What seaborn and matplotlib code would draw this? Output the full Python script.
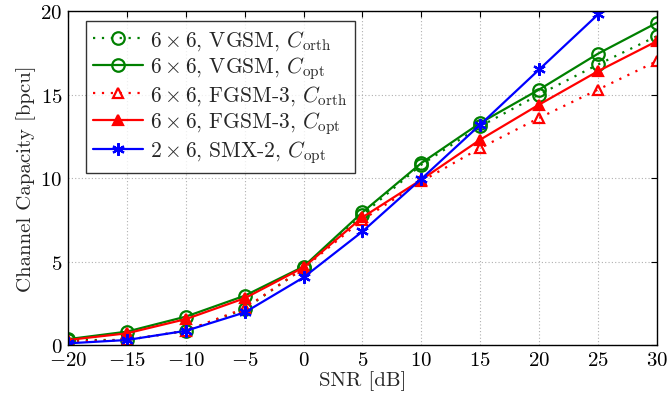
import matplotlib
matplotlib.use("Agg")
import matplotlib.pyplot as plt
import seaborn as sns
import numpy as np

# SNR grid in dB
snr = [-20, -15, -10, -5, 0, 5, 10, 15, 20, 25, 30]
snr_smx = [-20, -15, -10, -5, 0, 5, 10, 15, 20, 25]

# Channel capacity in bpcu
vgsm_orth = [0.3, 0.3, 0.85, 2.15, 4.6, 7.8, 10.8, 13.1, 15.0, 16.8, 18.5]
vgsm_opt = [0.35, 0.8, 1.7, 2.95, 4.7, 7.95, 10.9, 13.3, 15.3, 17.45, 19.3]
fgsm_orth = [0.2, 0.3, 0.85, 2.2, 4.6, 7.5, 9.8, 11.8, 13.6, 15.3, 17.0]
fgsm_opt = [0.3, 0.7, 1.55, 2.8, 4.65, 7.65, 9.9, 12.3, 14.4, 16.4, 18.2]
smx_opt = [0.1, 0.3, 0.85, 1.95, 4.05, 6.8, 9.95, 13.2, 16.5, 19.8]

labels = [
    r"$6\times6$, VGSM, $C_{\mathrm{orth}}$",
    r"$6\times6$, VGSM, $C_{\mathrm{opt}}$",
    r"$6\times6$, FGSM-3, $C_{\mathrm{orth}}$",
    r"$6\times6$, FGSM-3, $C_{\mathrm{opt}}$",
    r"$2\times6$, SMX-2, $C_{\mathrm{opt}}$",
]

sns.set_theme(style="white")
plt.rcParams.update({
    "font.family": ["cmr10", "DejaVu Serif"],
    "mathtext.fontset": "cm",
    "axes.formatter.use_mathtext": True,
    "axes.unicode_minus": True,
})

fig = plt.figure(figsize=(6.68, 4.02), dpi=100)
ax = fig.add_axes([0.1018, 0.1393, 0.8817, 0.8307])

green = "#008000"
red = "#ff0000"
blue = "#0000ff"

series = [
    (snr, vgsm_orth, green, (0, (1, 3)), "o", "none", 9),
    (snr, vgsm_opt, green, "-", "o", "none", 9),
    (snr, fgsm_orth, red, (0, (1, 3)), "^", "none", 7),
    (snr, fgsm_opt, red, "-", "^", red, 7),
    (snr_smx, smx_opt, blue, "-", (6, 2, 0), blue, 9),
]

for (x, y, c, ls, mk, fc, ms), lab in zip(series, labels):
    sns.lineplot(x=x, y=y, ax=ax, color=c, linestyle=ls, marker=mk,
                 markerfacecolor=fc, markeredgecolor=c, markersize=ms,
                 markeredgewidth=1.6, linewidth=1.6, label=lab)

fs = 15
ax.set_xlim(-20, 30)
ax.set_ylim(0, 20)
ax.set_xticks(np.arange(-20, 31, 5))
ax.set_yticks(np.arange(0, 21, 5))
ax.grid(True, color="#b0b0b0", linestyle=(0, (1, 2)), linewidth=0.8)
for s in ax.spines.values():
    s.set_color("black")
    s.set_linewidth(1.0)
ax.tick_params(direction="in", top=True, right=True, length=4, width=0.8,
               labelsize=fs, colors="black", pad=4)
ax.set_xlabel("SNR [dB]", fontsize=fs, labelpad=1)
ax.set_ylabel("Channel Capacity [bpcu]", fontsize=fs, labelpad=3)

leg = ax.legend(loc="upper left", bbox_to_anchor=(0.03, 0.97), fontsize=15.5,
                frameon=True, fancybox=False, edgecolor="black",
                handlelength=2.3, handletextpad=0.35, borderpad=0.35,
                labelspacing=0.1, borderaxespad=0.0)
leg.get_frame().set_linewidth(1.0)

fig.savefig("out.png", dpi=100)
